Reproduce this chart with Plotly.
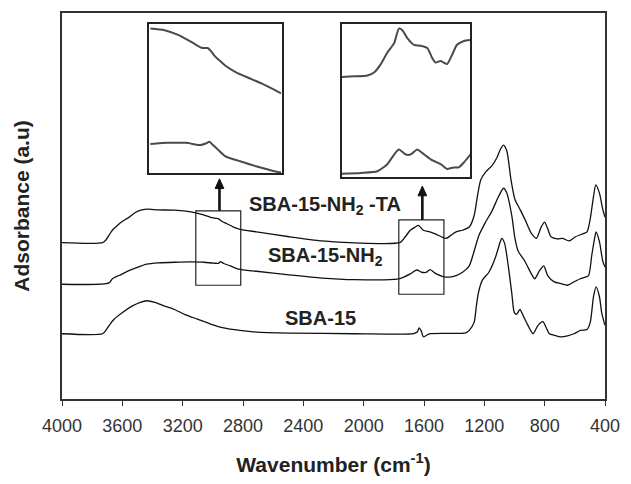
import plotly.graph_objects as go

# ---------------- data ----------------
wn_sba = [4000, 3731, 3709, 3688, 3655, 3601, 3536, 3481, 3438, 3384, 3319, 3254, 3188, 3102, 3015, 2928,
          2820, 2711, 2494, 2060, 1669, 1645, 1632, 1618, 1604, 1585, 1561, 1322, 1300, 1268, 1253, 1240,
          1214, 1170, 1127, 1094, 1084, 1066, 1040, 1018, 1001, 986, 964, 942, 910, 877, 845, 812, 791,
          769, 736, 693, 649, 606, 563, 519, 498, 476, 459, 437, 422, 406, 400]
abs_sba = [0.673, 0.673, 0.707, 0.757, 0.823, 0.89, 0.957, 0.997, 1.013, 0.997, 0.957, 0.923, 0.873, 0.823,
           0.773, 0.733, 0.707, 0.69, 0.68, 0.673, 0.673, 0.69, 0.733, 0.70, 0.64, 0.655, 0.673, 0.683,
           0.707, 0.79, 0.957, 1.09, 1.223, 1.307, 1.457, 1.623, 1.657, 1.607, 1.357, 1.09, 0.89, 0.873,
           0.923, 0.857, 0.757, 0.673, 0.757, 0.797, 0.74, 0.673, 0.657, 0.64, 0.65, 0.673, 0.707, 0.717,
           0.79, 1.057, 1.157, 1.057, 0.89, 0.79, 0.76]

wn_nh2 = [4000, 3688, 3666, 3622, 3557, 3492, 3438, 3362, 3254, 3145, 3058, 2993, 2961, 2950, 2928, 2885,
          2830, 2711, 2494, 2277, 2060, 1778, 1734, 1691, 1648, 1615, 1583, 1561, 1518, 1474, 1431, 1387,
          1344, 1300, 1268, 1235, 1192, 1149, 1105, 1073, 1051, 1018, 997, 975, 932, 888, 866, 834, 806,
          780, 736, 693, 649, 606, 563, 530, 509, 487, 465, 459, 437, 415, 400]
abs_nh2 = [1.183, 1.197, 1.24, 1.273, 1.323, 1.363, 1.39, 1.403, 1.41, 1.413, 1.41, 1.40, 1.40, 1.417,
           1.397, 1.373, 1.34, 1.317, 1.28, 1.247, 1.23, 1.235, 1.257, 1.29, 1.33, 1.307, 1.307, 1.333,
           1.29, 1.263, 1.257, 1.273, 1.307, 1.373, 1.523, 1.69, 1.823, 1.94, 2.09, 2.173, 2.123, 1.89,
           1.657, 1.523, 1.423, 1.29, 1.24, 1.323, 1.373, 1.273, 1.207, 1.19, 1.173, 1.207, 1.24, 1.257,
           1.273, 1.49, 1.69, 1.723, 1.623, 1.423, 1.36]

wn_ta = [4000, 3731, 3709, 3688, 3666, 3633, 3601, 3557, 3514, 3471, 3427, 3362, 3254, 3145, 3080, 3015,
         2982, 2961, 2939, 2906, 2863, 2820, 2711, 2494, 2277, 2060, 1756, 1724, 1691, 1658, 1637, 1604,
         1561, 1518, 1485, 1452, 1420, 1387, 1344, 1300, 1268, 1246, 1224, 1192, 1149, 1116, 1094, 1073,
         1051, 1023, 997, 964, 932, 888, 855, 823, 801, 780, 758, 715, 682, 639, 595, 541, 519, 498, 476,
         461, 437, 415, 400]
abs_ta = [1.613, 1.613, 1.64, 1.69, 1.74, 1.79, 1.83, 1.873, 1.923, 1.95, 1.957, 1.95, 1.947, 1.93, 1.907,
          1.873, 1.863, 1.857, 1.83, 1.807, 1.773, 1.75, 1.723, 1.673, 1.63, 1.61, 1.615, 1.673, 1.74,
          1.773, 1.79, 1.74, 1.723, 1.697, 1.673, 1.657, 1.69, 1.723, 1.74, 1.773, 1.89, 2.09, 2.257, 2.34,
          2.407, 2.49, 2.573, 2.617, 2.557, 2.257, 2.057, 1.957, 1.857, 1.707, 1.657, 1.773, 1.823, 1.757,
          1.673, 1.65, 1.657, 1.63, 1.673, 1.707, 1.723, 1.857, 2.09, 2.207, 2.123, 1.957, 1.873]

# inset 1 (C-H region, magnified)
wn_in1_top = [3111, 3079, 3047, 3014, 2994, 2982, 2974, 2966, 2954, 2942, 2918, 2885, 2853, 2817]
v_in1_top = [0.968, 0.957, 0.924, 0.870, 0.838, 0.838, 0.816, 0.784, 0.751, 0.719, 0.675, 0.632, 0.589, 0.535]
wn_in1_bot = [3111, 3071, 3031, 2998, 2986, 2978, 2970, 2958, 2942, 2909, 2869, 2829, 2817]
v_in1_bot = [0.195, 0.203, 0.203, 0.188, 0.199, 0.210, 0.188, 0.156, 0.113, 0.080, 0.043, 0.011, 0.004]

# inset 2 (amide / N-H region, magnified)
wn_in2_top = [1767, 1738, 1707, 1691, 1676, 1661, 1645, 1634, 1626, 1614, 1599, 1584, 1568, 1557, 1549,
              1537, 1530, 1522, 1510, 1499, 1483, 1468]
v_in2_top = [0.653, 0.657, 0.663, 0.684, 0.737, 0.811, 0.874, 0.968, 0.958, 0.905, 0.863, 0.857, 0.842,
             0.779, 0.747, 0.758, 0.747, 0.737, 0.800, 0.863, 0.888, 0.895]
wn_in2_bot = [1767, 1722, 1684, 1661, 1645, 1634, 1618, 1607, 1591, 1580, 1560, 1537, 1522, 1507, 1495,
              1483, 1468]
v_in2_bot = [0.021, 0.027, 0.038, 0.084, 0.147, 0.179, 0.147, 0.147, 0.179, 0.158, 0.116, 0.084, 0.053,
             0.063, 0.063, 0.095, 0.147]

labels = ["SBA-15-NH<sub>2</sub> -TA", "SBA-15-NH<sub>2</sub>", "SBA-15"]
label_wn = [2255, 2255, 2288]
label_abs = [2.0, 1.47, 0.84]

rect_wn = [(3113, 2815), (1767, 1468)]
rect_abs = [(1.173, 1.94), (1.08, 1.847)]
arrow_wn = [2956, 1611]
arrow_tail = [1.94, 1.847]
arrow_tip = [2.27, 2.195]

x_ticks = [4000, 3600, 3200, 2800, 2400, 2000, 1600, 1200, 800, 400]

# ---------------- figure ----------------
FONT = "Arial, Liberation Sans, sans-serif"
fig = go.Figure()
for wn, ab in [(wn_ta, abs_ta), (wn_nh2, abs_nh2), (wn_sba, abs_sba)]:
    fig.add_trace(go.Scatter(x=wn, y=ab, mode="lines",
                             line=dict(color="#111", width=1.3, shape="spline", smoothing=0.7),
                             showlegend=False, hoverinfo="skip"))

for wn, v in [(wn_in1_top, v_in1_top), (wn_in1_bot, v_in1_bot)]:
    fig.add_trace(go.Scatter(x=wn, y=v, xaxis="x2", yaxis="y2", mode="lines",
                             line=dict(color="#4a4a4a", width=2, shape="spline", smoothing=0.6),
                             showlegend=False, hoverinfo="skip"))
for wn, v in [(wn_in2_top, v_in2_top), (wn_in2_bot, v_in2_bot)]:
    fig.add_trace(go.Scatter(x=wn, y=v, xaxis="x3", yaxis="y3", mode="lines",
                             line=dict(color="#4a4a4a", width=2, shape="spline", smoothing=0.6),
                             showlegend=False, hoverinfo="skip"))

for (x0, x1), (y0, y1) in zip(rect_wn, rect_abs):
    fig.add_shape(type="rect", xref="x", yref="y", x0=x0, x1=x1, y0=y0, y1=y1,
                  line=dict(color="#222", width=1.2))

# arrows: shaft + filled head (head size in axis units ~ 9 px wide, 10 px tall)
HEAD_HALF_W = 29.0
HEAD_LEN = 0.10
for xw, yt, yh in zip(arrow_wn, arrow_tail, arrow_tip):
    fig.add_shape(type="line", xref="x", yref="y", x0=xw, x1=xw, y0=yt, y1=yh - HEAD_LEN * 0.8,
                  line=dict(color="#111", width=2.6))
    fig.add_shape(type="path", xref="x", yref="y",
                  path=f"M {xw - HEAD_HALF_W},{yh - HEAD_LEN} L {xw + HEAD_HALF_W},{yh - HEAD_LEN} L {xw},{yh} Z",
                  fillcolor="#111", line=dict(color="#111", width=1))

for t, xw, ya in zip(labels, label_wn, label_abs):
    fig.add_annotation(x=xw, y=ya, xref="x", yref="y", text="<b>%s</b>" % t, showarrow=False,
                       font=dict(family=FONT, size=20, color="#222"), xanchor="center", yanchor="middle")

axis_line = dict(showline=True, linecolor="#333", linewidth=1.5, mirror=True, showgrid=False, zeroline=False)
inset_axis = dict(showticklabels=False, ticks="", showline=True, linecolor="#222", linewidth=1.5,
                  mirror=True, showgrid=False, zeroline=False)
fig.update_layout(
    width=631, height=484, autosize=False,
    margin=dict(l=62, r=16, t=11, b=75),
    paper_bgcolor="white", plot_bgcolor="white",
    font=dict(family=FONT, color="#333"),
    xaxis=dict(range=[4000, 400], tickmode="array", tickvals=x_ticks, ticktext=[str(v) for v in x_ticks],
               ticks="outside", ticklen=5, tickwidth=1.2, tickcolor="#333", ticklabelstandoff=5,
               tickfont=dict(family=FONT, size=18, color="#333"),
               title=dict(text="<b>Wavenumber (cm<sup>-1</sup>)</b>", font=dict(family=FONT, size=21, color="#222"),
                          standoff=22),
               **axis_line),
    yaxis=dict(range=[0, 3.98], showticklabels=False, ticks="",
               title=dict(text="<b>Adsorbance (a.u)</b>", font=dict(family=FONT, size=21, color="#222"),
                          standoff=25),
               **axis_line),
    xaxis2=dict(domain=[0.161, 0.405], range=[3113, 2815], anchor="y2", **inset_axis),
    yaxis2=dict(domain=[0.585, 0.972], range=[0, 1], anchor="x2", **inset_axis),
    xaxis3=dict(domain=[0.515, 0.752], range=[1767, 1468], anchor="y3", **inset_axis),
    yaxis3=dict(domain=[0.575, 0.972], range=[0, 1], anchor="x3", **inset_axis),
)

# remove the browser's default 8px page margin so the 631x484 figure fills the window exactly
fig.write_html("out.html", config={"displayModeBar": False, "responsive": False},
               post_script="document.body.style.margin='0';document.body.style.overflow='hidden';")
